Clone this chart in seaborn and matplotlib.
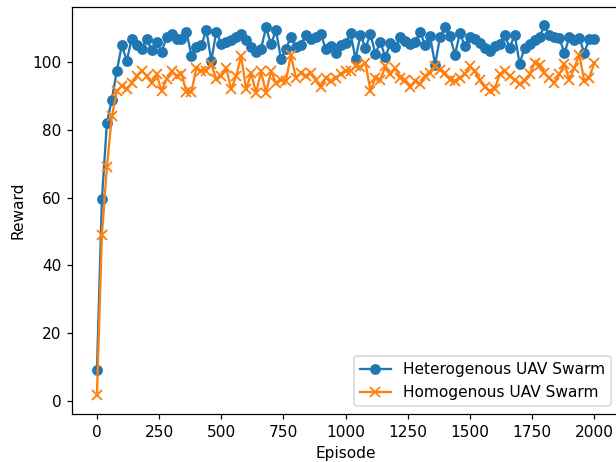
import matplotlib
matplotlib.use("Agg")
import matplotlib.pyplot as plt
import numpy as np
import seaborn as sns

# episodes 0..2000, one point every 20
episodes = np.arange(0, 2001, 20)

hetero = [
    9, 59.5, 82, 89, 97.5, 105, 100.5, 107, 105, 104,
    107, 103.5, 106, 103, 107.5, 108.5, 107, 107, 109, 102,
    104.5, 105, 109.5, 100.5, 109, 105.5, 106, 106.5, 107.5, 108.5,
    106.5, 104.5, 103, 104, 110.3, 105.3, 109.5, 101, 104, 107.5,
    104.5, 105, 108, 107, 107.5, 108.5, 104, 104.7, 102.7, 105,
    105.7, 108.6, 101, 108.1, 104.2, 108.3, 102.5, 106, 101.5, 105.7,
    104.5, 107.4, 106.4, 105.5, 106, 108.9, 105.1, 107.7, 99.3, 107.5,
    110.3, 107.7, 102.3, 108.6, 104.7, 107.6, 107, 105.7, 104.2, 103.2,
    104.7, 105.4, 108.2, 104.2, 108.2, 99.6, 104.2, 105.4, 106.7, 107.5,
    110.9, 108.1, 107.4, 107.2, 102.7, 107.4, 106.7, 107.2, 102.7, 107,
    107,
]

homo = [
    1.5, 49, 69, 84, 91.5, 93, 92, 94, 96, 97.5,
    96, 94, 96.5, 91.5, 95, 97.3, 96, 96.5, 91.3, 91.3,
    98.3, 97.5, 97.5, 99.5, 95, 96, 98.3, 92, 96, 101.8,
    92, 96.8, 91, 97.3, 91, 97.3, 93.9, 94.9, 94.4, 102.3,
    95.4, 96.8, 95.9, 96.8, 94.9, 92.6, 95.4, 94.4, 95.4, 96.6,
    97.3, 97.5, 98.8, 98.5, 99.8, 91.6, 95.4, 94.9, 98.8, 96.5,
    98.3, 95.4, 94.9, 92.6, 94.4, 93.5, 95.9, 96.8, 98.8, 97.8,
    96.8, 94.9, 94.4, 95.4, 96.4, 98.8, 97.3, 94.9, 92.6, 91.6,
    92.2, 96.4, 97.3, 95.9, 94.9, 93.5, 94.6, 96.5, 99.8, 99.3,
    96.8, 95.4, 93.9, 96.4, 99.5, 94.9, 98.3, 102.3, 94.4, 95.4,
    99.8,
]

DPI = 111
fig = plt.figure(figsize=(616 / DPI, 462 / DPI), dpi=DPI)
ax = fig.add_axes([0.117, 0.104, 0.888, 0.881])

sns.lineplot(x=episodes, y=hetero, ax=ax, color="C0", marker="o",
             markersize=6, markeredgecolor="C0", markeredgewidth=1,
             linewidth=1.5, label="Heterogenous UAV Swarm")
sns.lineplot(x=episodes, y=homo, ax=ax, color="C1", marker="x",
             markersize=6, markeredgecolor="C1", markeredgewidth=1.2,
             linewidth=1.5, label="Homogenous UAV Swarm")

ax.set_xticks([0, 250, 500, 750, 1000, 1250, 1500, 1750, 2000])
ax.set_xlabel("Episode")
ax.set_ylabel("Reward")
ax.legend(loc="lower right")

fig.savefig("out.png", dpi=DPI)
